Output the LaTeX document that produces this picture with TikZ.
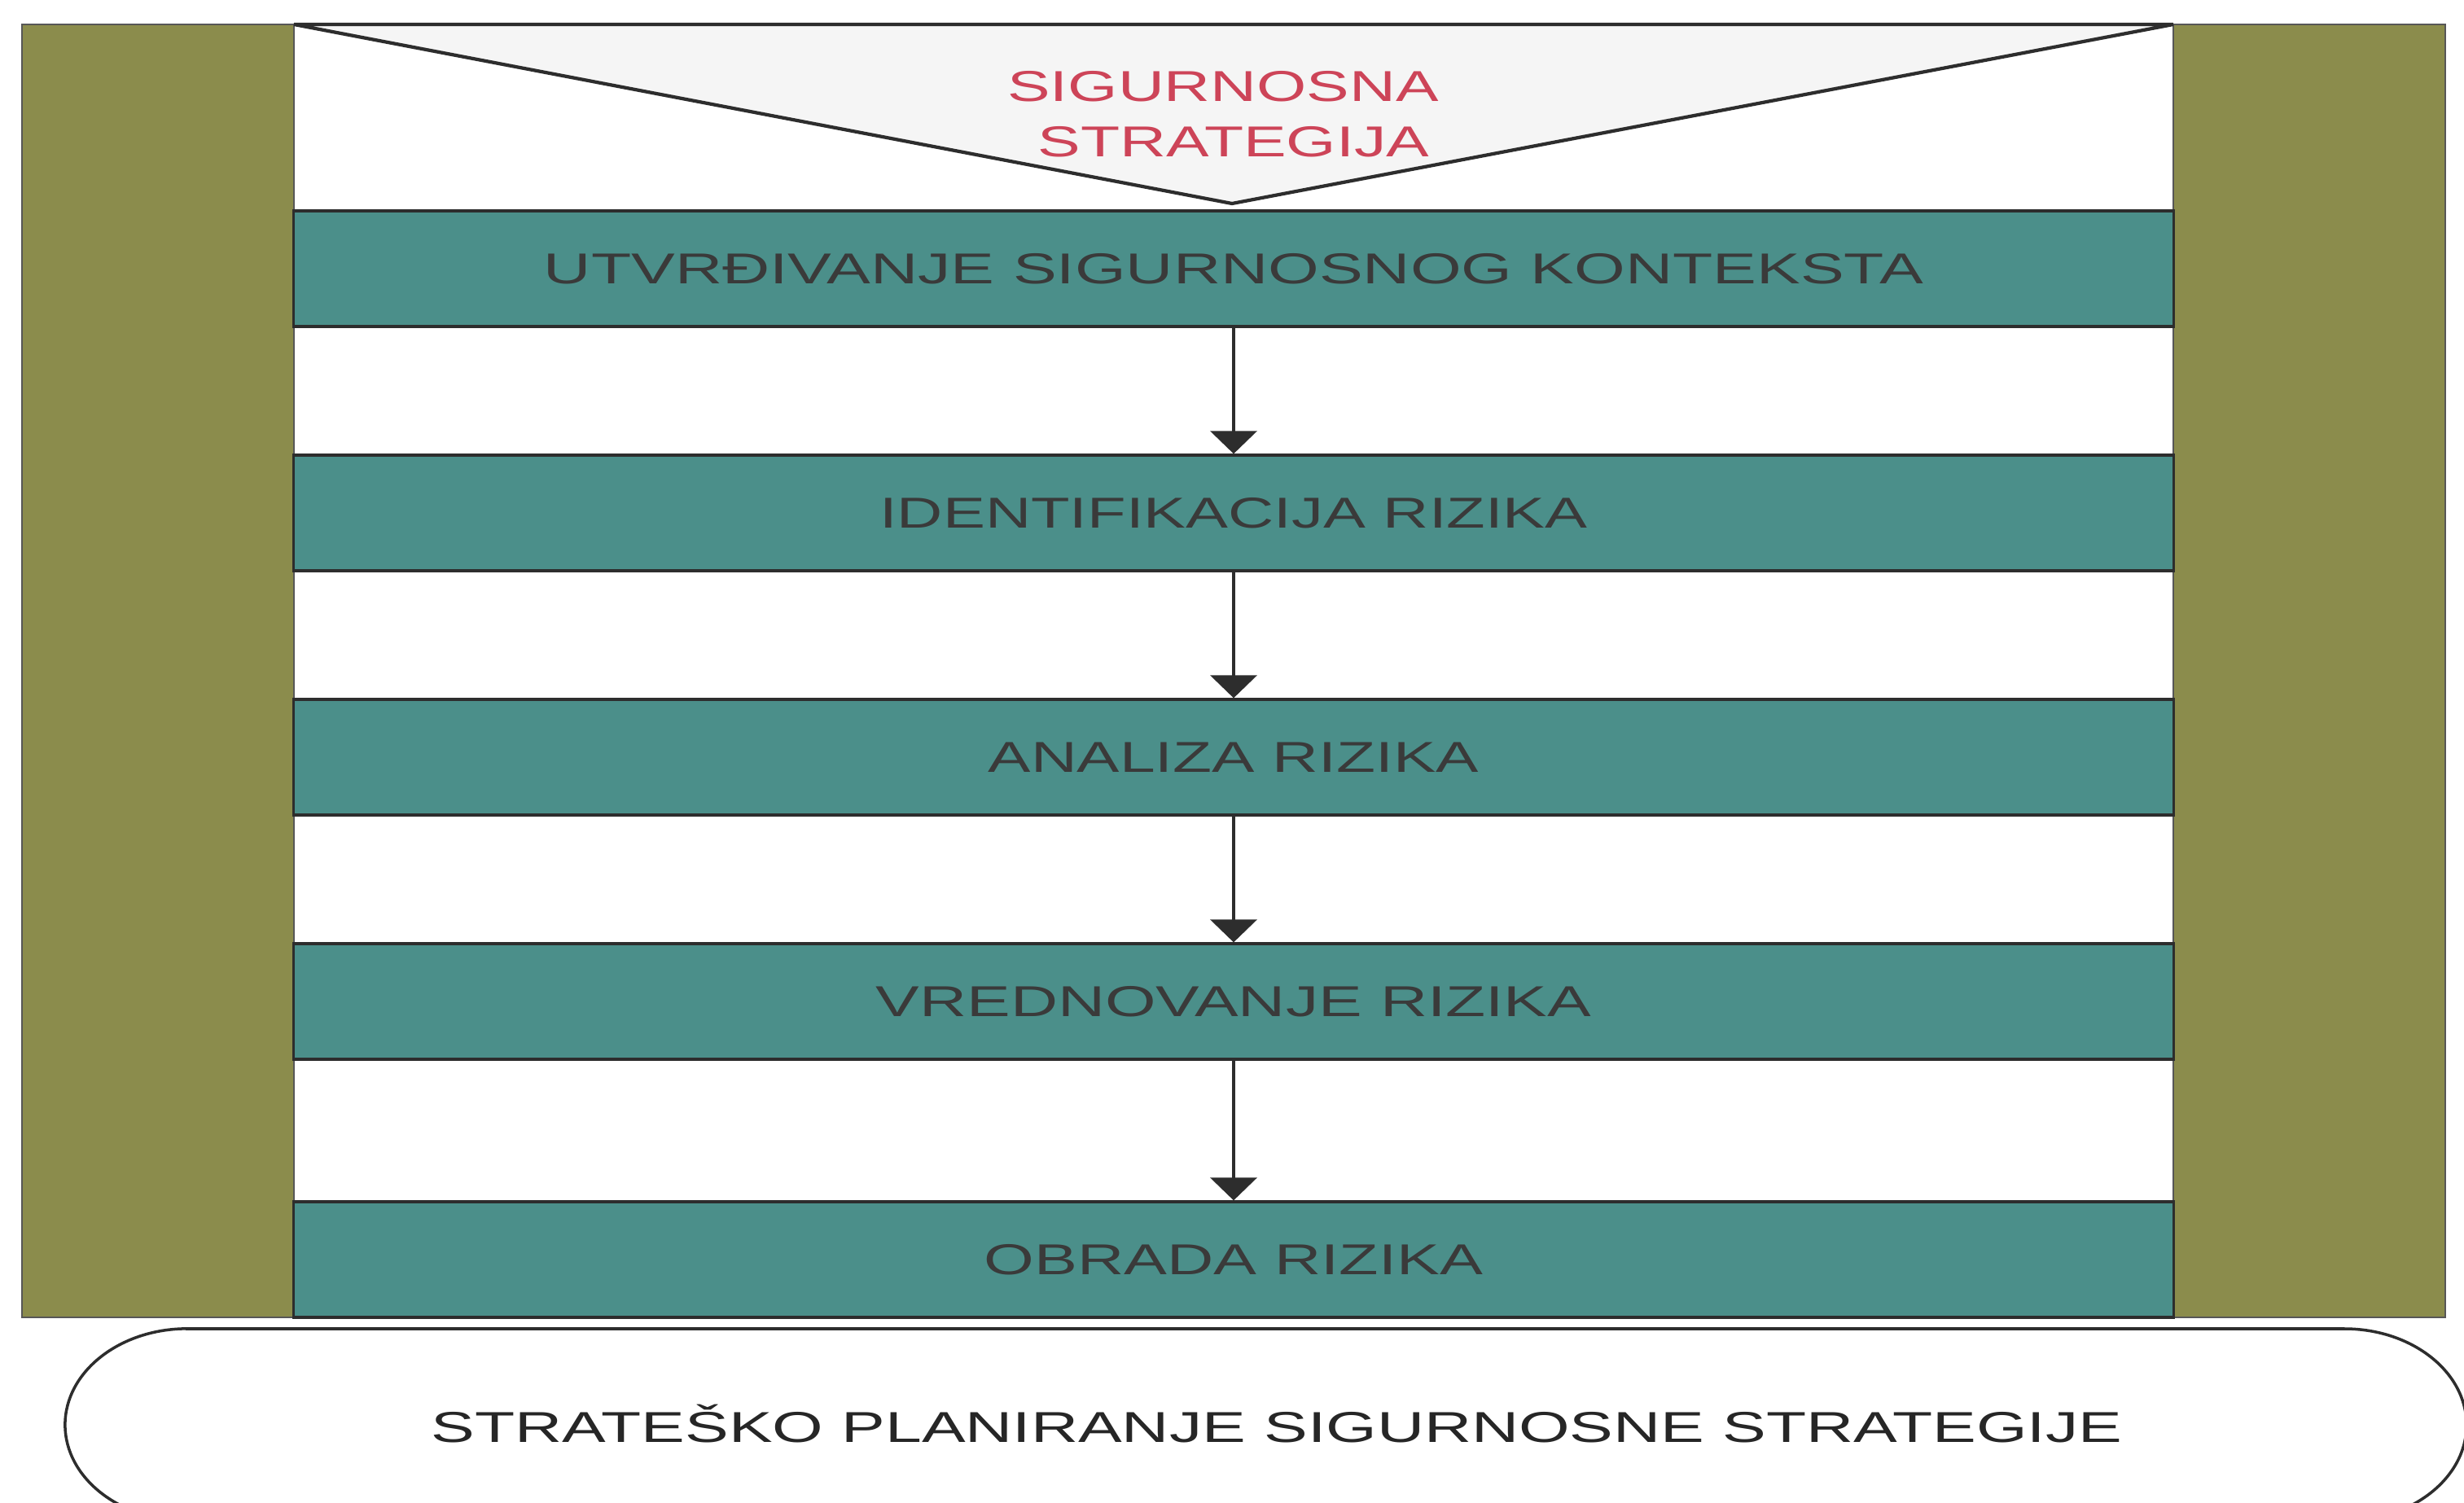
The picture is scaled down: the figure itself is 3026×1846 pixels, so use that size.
\documentclass[tikz,border=0pt]{standalone}
\usepackage{fontspec}
\setmainfont{Liberation Sans}
\usepackage{graphicx}
\usetikzlibrary{arrows.meta}
\definecolor{olivebar}{RGB}{139,140,76}
\definecolor{tealbox}{RGB}{75,143,138}
\definecolor{boxtext}{RGB}{58,58,58}
\definecolor{redtext}{RGB}{205,68,88}
\definecolor{edgecol}{RGB}{45,45,45}
\newcommand\fitw[2]{\resizebox{#1}{\height}{#2}}
\tikzset{
  stepbox/.style={draw=edgecol, line width=0.9pt, fill=tealbox, minimum width=23.08cm,
    minimum height=1.42cm, inner sep=0pt, text=boxtext, font=\fontsize{15.1}{18}\selectfont},
  flow/.style={draw=edgecol, line width=1.1pt, -{Triangle[width=5.7mm,length=2.8mm]}},
  sidebar/.style={fill=olivebar, draw=edgecol!80, line width=0.4pt},
  redlabel/.style={text=redtext, font=\fontsize{15.1}{18}\selectfont, inner sep=0pt, anchor=base},
  bottomlabel/.style={text=black!85, font=\fontsize{15.1}{18}\selectfont, inner sep=0pt, anchor=base}
}
\begin{document}
\begin{tikzpicture}[x=0.01cm,y=-0.01cm]
\useasboundingbox (0,0) rectangle (3026,1846);
\fill[white] (0,0) rectangle (3026,1846);
% side bars
\draw[sidebar] (27,30) rectangle (361,1618);
\draw[sidebar] (2669,30) rectangle (3003,1618);
% top triangle
\coordinate (tl) at (361,30);
\coordinate (tr) at (2669,30);
\coordinate (apex) at (1513,250);
\draw[line width=1.2pt, draw=edgecol, fill=black!4] (tl) -- (tr) -- (apex) -- cycle;
\node[redlabel] (s1) at (1502,125) {\fitw{5.29cm}{SIGURNOSNA}};
\node[redlabel] (s2) at (1515,193) {\fitw{4.80cm}{STRATEGIJA}};
% steps
\node[stepbox] (b1) at (1515,330) {\fitw{16.93cm}{UTVRĐIVANJE SIGURNOSNOG KONTEKSTA}};
\node[stepbox] (b2) at (1515,630) {\fitw{8.69cm}{IDENTIFIKACIJA RIZIKA}};
\node[stepbox] (b3) at (1515,930) {\fitw{6.02cm}{ANALIZA RIZIKA}};
\node[stepbox] (b4) at (1515,1230) {\fitw{8.78cm}{VREDNOVANJE RIZIKA}};
\node[stepbox] (b5) at (1515,1547) {\fitw{6.12cm}{OBRADA RIZIKA}};
\draw[flow] (b1.south) -- (b2.north);
\draw[flow] (b2.south) -- (b3.north);
\draw[flow] (b3.south) -- (b4.north);
\draw[flow] (b4.south) -- (b5.north);
% bottom rounded shape
\draw[line width=1.0pt, draw=edgecol] (230,1632) -- (2879,1632)
  arc[start angle=90, end angle=-90, x radius=1.5cm, y radius=1.18cm]
  -- (230,1868)
  arc[start angle=270, end angle=90, x radius=1.5cm, y radius=1.18cm] -- cycle;
\node[bottomlabel] (plan) at (1568,1771) {\fitw{20.75cm}{STRATEŠKO PLANIRANJE SIGURNOSNE STRATEGIJE}};
\end{tikzpicture}
\end{document}
